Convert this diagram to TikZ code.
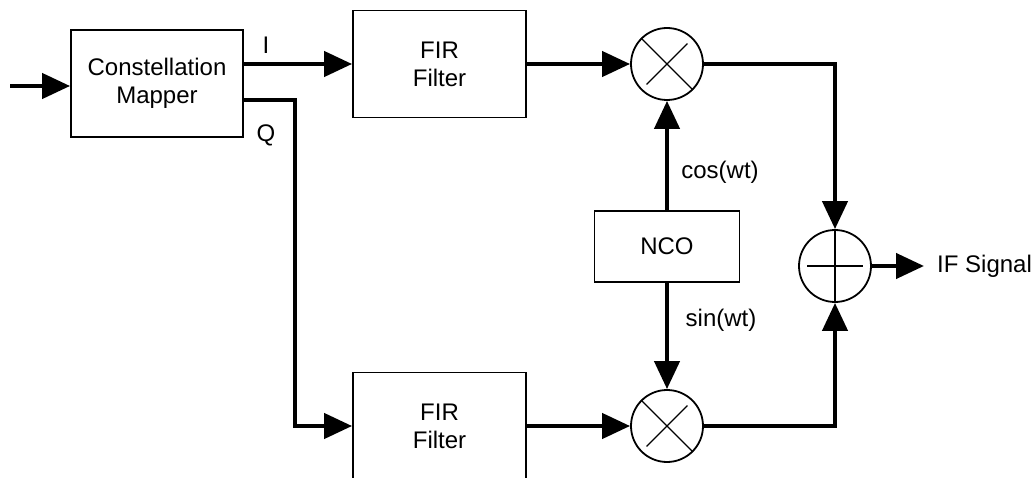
\documentclass[tikz,border=0pt]{standalone}
\usepackage{fontspec}
\setmainfont{Liberation Sans}
\usetikzlibrary{arrows.meta}

\tikzset{
	blk/.style={draw,line width=1.8pt,align=center,inner sep=0pt,font=\fontsize{24}{28}\selectfont},
	mixer/.style={draw,circle,line width=1.8pt,minimum size=72pt,inner sep=0pt},
	sig/.style={line width=4.3pt,-{Triangle[length=28pt,width=25pt]}},
	lbl/.style={font=\fontsize{24}{28}\selectfont,inner sep=0pt}
}

\begin{document}
\begin{tikzpicture}[x=1pt,y=-1pt]
			\useasboundingbox (0,0) rectangle (1033,478);
			% blocks
			\node[blk,minimum width=172pt,minimum height=107pt] (map) at (157,83.5) {Constellation\\Mapper};
			\node[blk,minimum width=173pt,minimum height=107pt] (firI) at (439.5,64) {FIR\\Filter};
			\node[blk,minimum width=173pt,minimum height=107pt] (firQ) at (439.5,426) {FIR\\Filter};
			\node[blk,minimum width=145pt,minimum height=71pt] (nco) at (667,246.5) {NCO};
			\node[mixer] (mulI) at (667,64) {};
			\node[mixer] (mulQ) at (667,426) {};
			\node[mixer] (add) at (835,266) {};
			% crosses
			\draw[line width=1.3pt,shorten <=8pt,shorten >=8pt] (mulI.135) -- (mulI.-45) (mulI.45) -- (mulI.-135);
			\draw[line width=1.3pt,shorten <=8pt,shorten >=8pt] (mulQ.135) -- (mulQ.-45) (mulQ.45) -- (mulQ.-135);
			\draw[line width=1.3pt,shorten <=9pt,shorten >=9pt] (add.north) -- (add.south) (add.west) -- (add.east);
			% signals
			\coordinate (in) at (10,86);
			\coordinate (out) at (924,266);
			\draw[sig] (in) -- (in -| map.west);
			\draw[sig] (map.east |- firI) -- (firI);
			\draw[sig] ([yshift=-16.5pt]map.east) -- ++(51,0) |- (firQ.west);
			\draw[sig] (firI) -- (mulI);
			\draw[sig] (firQ) -- (mulQ);
			\draw[sig] (nco) -- (mulI);
			\draw[sig] (nco) -- (mulQ);
			\draw[sig] (mulI) -| (add);
			\draw[sig] (mulQ) -| (add);
			\draw[sig] (add) -- (out);
			% labels
			\node[lbl] (lblI) at (266,45) {I};
			\node[lbl] (lblQ) at (266,135) {Q};
			\node[lbl] (lblcos) at (720,172) {cos(wt)};
			\node[lbl] (lblsin) at (721,320) {sin(wt)};
			\node[lbl,anchor=west] (ifsig) at (937,266) {IF Signal};
		\end{tikzpicture}
\end{document}
